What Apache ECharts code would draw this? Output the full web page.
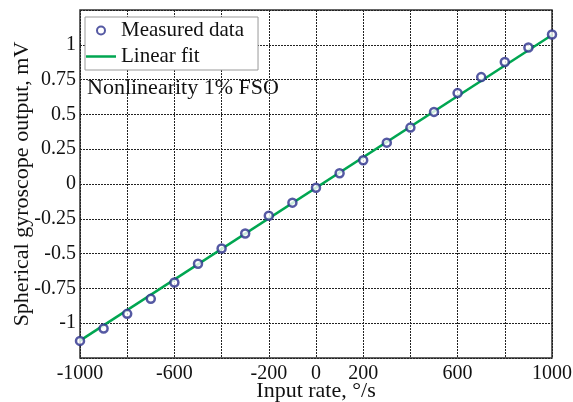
<!DOCTYPE html>
<html><head><meta charset="utf-8">
<script src="https://cdn.jsdelivr.net/npm/echarts@6/dist/echarts.min.js"></script>
<style>html,body{margin:0;padding:0;background:#fff}#c{width:573px;height:402px}</style>
</head><body><div id="c"></div>
<script>
const inputRate = [-1000,-900,-800,-700,-600,-500,-400,-300,-200,-100,0,100,200,300,400,500,600,700,800,900,1000];
const measured = [-1.127,-1.038,-0.933,-0.825,-0.707,-0.573,-0.463,-0.355,-0.228,-0.134,-0.027,0.077,0.170,0.297,0.405,0.518,0.653,0.768,0.876,0.981,1.074];
const fitX = [-1000, 1000];
const fitY = [-1.125, 1.07];
const xLabels = ['-1000','-600','-200','0','200','600','1000'];
const yLabels = ['-1','-0.75','-0.5','-0.25','0','0.25','0.5','0.75','1'];

const font = 'Liberation Serif';
const chart = echarts.init(document.getElementById('c'));
chart.setOption({
  animation: false,
  textStyle: {fontFamily: font},
  grid: {left: 80, right: 21, top: 10, bottom: 44, containLabel: false, outerBoundsMode: 'none',
    show: true, borderColor: '#333', borderWidth: 1.5},
  xAxis: {
    type: 'value', min: -1000, max: 1000, interval: 200,
    name: 'Input rate, °/s', nameLocation: 'middle', nameGap: 22, nameMoveOverlap: false,
    nameTextStyle: {fontFamily: font, fontSize: 22, color: '#111'},
    axisLine: {show: false}, axisTick: {show: false},
    axisLabel: {fontFamily: font, fontSize: 20, color: '#111', margin: 6,
      formatter: v => xLabels.indexOf(String(v)) >= 0 ? String(v) : ''},
    splitLine: {lineStyle: {color: '#222', type: [2,1], width: 1}}
  },
  yAxis: {
    type: 'value', min: -1.25, max: 1.25, interval: 0.25,
    name: 'Spherical gyroscope output, mV', nameLocation: 'middle', nameGap: 47, nameMoveOverlap: false,
    nameTextStyle: {fontFamily: font, fontSize: 22, color: '#111'},
    axisLine: {show: false}, axisTick: {show: false},
    axisLabel: {fontFamily: font, fontSize: 20, color: '#111', margin: 4,
      formatter: v => { const s = String(+v.toFixed(2)); return yLabels.indexOf(s) >= 0 ? s : ''; }},
    splitLine: {lineStyle: {color: '#222', type: [2,1], width: 1}}
  },
  legend: {
    left: 85, top: 17, orient: 'vertical', itemGap: 5,
    backgroundColor: '#fff', borderColor: '#999', borderWidth: 1, padding: [3, 14, 3, 1],
    itemWidth: 30, itemHeight: 8,
    textStyle: {fontFamily: font, fontSize: 21, color: '#111'},
    data: [{name: 'Measured data', icon: 'circle', itemStyle: {color: '#fff', borderColor: '#2b2f8c', borderWidth: 2}},
           {name: 'Linear fit', icon: 'path://M0,0 L30,0 L30,2.5 L0,2.5 Z', itemStyle: {color: '#00a651', borderWidth: 0}}]
  },
  graphic: [{type: 'text', left: 87, top: 77, style: {text: 'Nonlinearity 1% FSO', font: '22px "Liberation Serif"', fill: '#111'}}],
  series: [
    {name: 'Linear fit', type: 'line', data: fitX.map((x,i)=>[x, fitY[i]]), symbol: 'none',
      lineStyle: {color: '#00a651', width: 2.5}, itemStyle: {color: '#00a651'}, z: 2},
    {name: 'Measured data', type: 'scatter', data: inputRate.map((x,i)=>[x, measured[i]]), symbol: 'circle', symbolSize: 8,
      itemStyle: {color: '#fff', borderColor: '#2b2f8c', borderWidth: 2.5}, z: 3}
  ]
});
</script></body></html>
